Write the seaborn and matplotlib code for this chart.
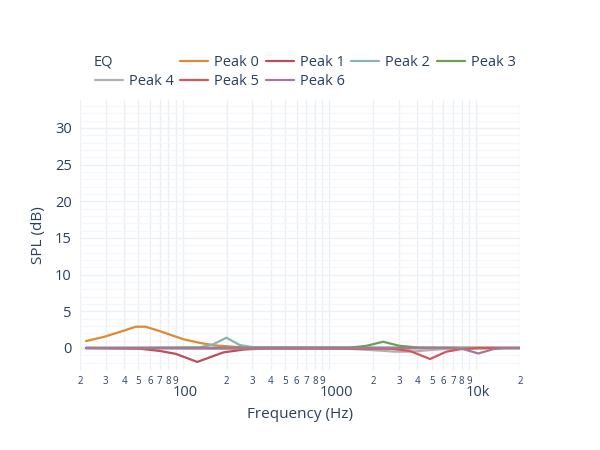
import numpy as np
import pandas as pd
import matplotlib
matplotlib.use("Agg")
import matplotlib.pyplot as plt
from matplotlib.lines import Line2D
from matplotlib.ticker import FixedLocator, FixedFormatter, NullFormatter
from matplotlib.transforms import ScaledTranslation
import seaborn as sns

# ---- data ----
peak_names = ["Peak 0", "Peak 1", "Peak 2", "Peak 3", "Peak 4", "Peak 5", "Peak 6"]

p0_freq = [22, 29, 37.5, 48, 56, 70, 101, 131, 167, 228, 340, 20000]
p0_db = [0.95, 1.5, 2.2, 2.9, 2.9, 2.3, 1.2, 0.7, 0.35, 0.15, 0.05, 0.0]

p1_freq = [22, 51, 70, 90, 126, 190, 265, 390, 20000]
p1_db = [0.0, -0.1, -0.4, -0.8, -1.9, -0.6, -0.2, -0.05, 0.0]

p2_freq = [22, 131, 162, 199, 246, 305, 20000]
p2_db = [0.0, 0.1, 0.5, 1.4, 0.4, 0.1, 0.0]

p3_freq = [22, 1380, 1800, 2330, 3010, 4100, 20000]
p3_db = [0.0, 0.05, 0.3, 0.85, 0.3, 0.05, 0.0]

p4_freq = [22, 1300, 2000, 2800, 3600, 4800, 6500, 20000]
p4_db = [0.0, -0.1, -0.3, -0.5, -0.5, -0.3, -0.1, 0.0]

p5_freq = [22, 2630, 3550, 4870, 6300, 7950, 10500, 20000]
p5_db = [0.0, -0.1, -0.4, -1.5, -0.5, -0.15, 0.0, 0.0]

p6_freq = [22, 6700, 8200, 10400, 13200, 15600, 20000]
p6_db = [0.0, 0.0, -0.15, -0.75, -0.15, 0.0, 0.0]

colors = ["#DC8A34", "#B8505A", "#86B5B2", "#6A9F58", "#B3AFAD", "#D5555C", "#A3789A"]

freqs = [p0_freq, p1_freq, p2_freq, p3_freq, p4_freq, p5_freq, p6_freq]
dbs = [p0_db, p1_db, p2_db, p3_db, p4_db, p5_db, p6_db]

rows = []
for name, fr, db in zip(peak_names, freqs, dbs):
    for f, d in zip(fr, db):
        rows.append({"Frequency": f, "SPL": d, "EQ": name})
df = pd.DataFrame(rows)

# ---- style ----
sns.set_theme(style="white")
plt.rcParams["font.family"] = ["Open Sans", "DejaVu Sans"]
text_color = "#2a3f5f"
grid_color = "#EBF0F8"
minor_grid = "#F4F6FA"

fig = plt.figure(figsize=(6, 4.5), dpi=100)
ax = fig.add_axes([80 / 600, 80 / 450, 440 / 600, 270 / 450])

sns.lineplot(data=df, x="Frequency", y="SPL", hue="EQ", palette=colors,
             hue_order=peak_names, estimator=None, sort=True, linewidth=1.6,
             legend=False, ax=ax, zorder=3)

ax.set_xscale("log")
ax.set_xlim(20, 20000)
ax.set_ylim(-3.0, 33.8)

for s in ax.spines.values():
    s.set_visible(False)

# x ticks: majors 100, 1000, 10k (lower), minors labelled with digits
major_x = [100, 1000, 10000]
minor_x = []
minor_lbl = []
for dec in [10, 100, 1000, 10000]:
    for k in range(2, 10):
        v = dec * k
        if 20 <= v <= 20000:
            minor_x.append(v)
            minor_lbl.append(str(k))
ax.xaxis.set_major_locator(FixedLocator(major_x))
ax.xaxis.set_major_formatter(FixedFormatter(["100", "1000", "10k"]))
ax.xaxis.set_minor_locator(FixedLocator(minor_x))
ax.xaxis.set_minor_formatter(FixedFormatter(minor_lbl))
ax.tick_params(axis="x", which="major", length=0, pad=11, labelsize=10.5, labelcolor=text_color)
ax.tick_params(axis="x", which="minor", length=0, pad=4, labelsize=7, labelcolor=text_color)
offset = ScaledTranslation(-10 / 100, 0, fig.dpi_scale_trans)
for lbl in ax.xaxis.get_majorticklabels():
    lbl.set_horizontalalignment("left")
    lbl.set_transform(lbl.get_transform() + offset)

# y ticks
ax.yaxis.set_major_locator(FixedLocator([0, 5, 10, 15, 20, 25, 30]))
ax.yaxis.set_minor_locator(FixedLocator([v for v in range(-3, 34) if v % 5 != 0]))
ax.yaxis.set_minor_formatter(NullFormatter())
ax.tick_params(axis="y", which="major", length=0, pad=6, labelsize=10.5, labelcolor=text_color)
ax.tick_params(axis="y", which="minor", length=0)

# grids
ax.grid(True, which="major", axis="both", color=grid_color, linewidth=1.0, zorder=0)
ax.grid(True, which="minor", axis="x", color=grid_color, linewidth=1.0, zorder=0)
ax.grid(True, which="minor", axis="y", color=minor_grid, linewidth=0.8, zorder=0)
ax.axhline(0, color=grid_color, linewidth=2, zorder=1)
ax.set_axisbelow(True)

ax.set_xlabel("Frequency (Hz)", fontsize=11, color=text_color, labelpad=5)
ax.set_ylabel("SPL (dB)", fontsize=11, color=text_color, labelpad=6)

# legend: horizontal, "EQ" title at left
blank = Line2D([], [], color="none")
h = [Line2D([], [], color=c, linewidth=1.6) for c in colors]
handles = [blank, h[4], h[0], h[5], h[1], h[6], h[2], blank, h[3], blank]
labels = ["", "Peak 4", "Peak 0", "Peak 5", "Peak 1", "Peak 6", "Peak 2", "", "Peak 3", ""]
leg = fig.legend(handles, labels, ncol=5, loc="upper left",
                 bbox_to_anchor=(95 / 600, 1 - 55 / 450), frameon=False,
                 fontsize=10.5, handlelength=1.92, handletextpad=0.41,
                 columnspacing=0.45, labelspacing=0.3, borderaxespad=0, borderpad=0)
for t in leg.get_texts():
    t.set_color(text_color)
fig.text(94 / 600, 1 - 62 / 450, "EQ", fontsize=10.5, color=text_color, va="center", ha="left")

fig.savefig("out.png", dpi=100, facecolor="white")
